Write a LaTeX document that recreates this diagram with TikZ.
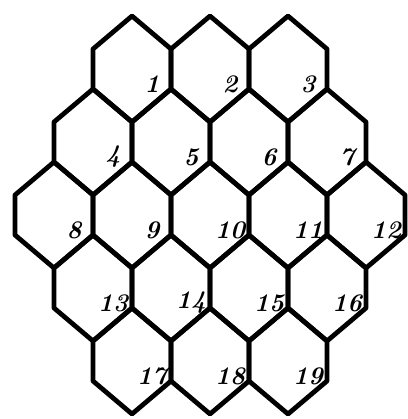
\documentclass[tikz,border=0pt]{standalone}
\tikzset{cell/.style={line width=2.7pt, line join=round}, num/.style={font=\Large\bfseries\itshape}}
\begin{document}
\begin{tikzpicture}[x=0.02cm, y=-0.02cm]
\useasboundingbox (0,0) rectangle (407,419);
\foreach \r/\n/\first in {0/3/1, 1/4/4, 2/5/8, 3/4/13, 4/3/17} {
  \foreach \i in {1,...,\n} {
    \pgfmathsetmacro\cx{210 + 78*(\i - (\n+1)/2)}
    \pgfmathsetmacro\cy{69 + 73*\r}
    \pgfmathtruncatemacro\k{\first + \i - 1}
    \draw[cell] (\cx,\cy-53) -- ++(39,33) -- ++(0,40) -- ++(-39,33) -- ++(-39,-33) -- ++(0,-40) -- cycle;
    \node[num] (n\k) at (\cx+20,\cy+15) {\k};
  }
}
\end{tikzpicture}
\end{document}
